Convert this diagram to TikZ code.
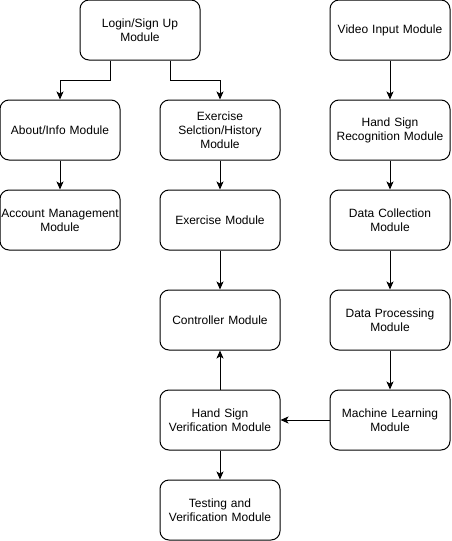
\documentclass[tikz,border=0pt]{standalone}
\usepackage{fontspec}
\setmainfont{Liberation Sans}
\usetikzlibrary{arrows.meta}
\begin{document}
\begin{tikzpicture}[x=1pt,y=-1pt,
  box/.style={draw, line width=1pt, rounded corners=9pt, minimum width=120pt, minimum height=60pt,
    text width=118pt, align=center, inner sep=0pt, font=\fontsize{12}{14}\selectfont},
  conn/.style={draw, line width=1pt, -{Stealth[length=8pt,width=7pt,inset=2pt]}}]
\useasboundingbox (0,0) rectangle (451,541);
\node[box] (login) at (140,30) {Login/Sign Up\\Module};
\node[box] (video) at (390,30) {Video Input Module};
\node[box] (about) at (60,130) {About/Info Module};
\node[box] (exsel) at (220,130) {Exercise\\Selction/History\\Module};
\node[box] (hsr) at (390,130) {Hand Sign\\Recognition Module};
\node[box] (acct) at (60,220) {Account Management\\Module};
\node[box] (ex) at (220,220) {Exercise Module};
\node[box] (dc) at (390,220) {Data Collection\\Module};
\node[box] (ctrl) at (220,320) {Controller Module};
\node[box] (dp) at (390,320) {Data Processing\\Module};
\node[box] (hsv) at (220,420) {Hand Sign\\Verification Module};
\node[box] (ml) at (390,420) {Machine Learning\\Module};
\node[box] (test) at (220,510) {Testing and\\Verification Module};
\draw[conn] ([xshift=-30pt]login.south) |- (60,80) -- (about.north);
\draw[conn] ([xshift=30pt]login.south) |- (220,80) -- (exsel.north);
\draw[conn] (about) -- (acct);
\draw[conn] (exsel) -- (ex);
\draw[conn] (ex) -- (ctrl);
\draw[conn] (video) -- (hsr);
\draw[conn] (hsr) -- (dc);
\draw[conn] (dc) -- (dp);
\draw[conn] (dp) -- (ml);
\draw[conn] (ml) -- (hsv);
\draw[conn] (hsv) -- (ctrl);
\draw[conn] (hsv) -- (test);
\end{tikzpicture}
\end{document}
